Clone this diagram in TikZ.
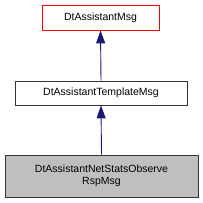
\documentclass[tikz,border=0pt]{standalone}
\usepackage{fontspec}
\setmainfont{Liberation Sans}
\usetikzlibrary{arrows.meta}
\definecolor{edgeblue}{HTML}{191970}
\definecolor{boxgray}{HTML}{BFBFBF}
\tikzset{
  cls/.style={draw=black!80, line width=0.8pt, fill=white, inner sep=0pt, font=\fontsize{10.5}{12.5}\selectfont, align=center},
  inherit/.style={draw=edgeblue, line width=0.9pt, -{Triangle[length=13pt,width=9pt]}}
}
\begin{document}
\begin{tikzpicture}[x=1pt,y=-1pt]
\useasboundingbox (0,0) rectangle (203,203);
\node[cls, draw=red, minimum width=117pt, minimum height=25pt] (a) at (100.5,17.5) {DtAssistantMsg};
\node[cls, minimum width=172pt, minimum height=24pt] (b) at (101,93) {DtAssistantTemplateMsg};
\node[cls, fill=boxgray, minimum width=193pt, minimum height=42pt] (c) at (101.5,176) {DtAssistantNetStatsObserve\\RspMsg};
\draw[inherit] (b.north) -- (a.south);
\draw[inherit] (c.north) -- (b.south);
\end{tikzpicture}
\end{document}
